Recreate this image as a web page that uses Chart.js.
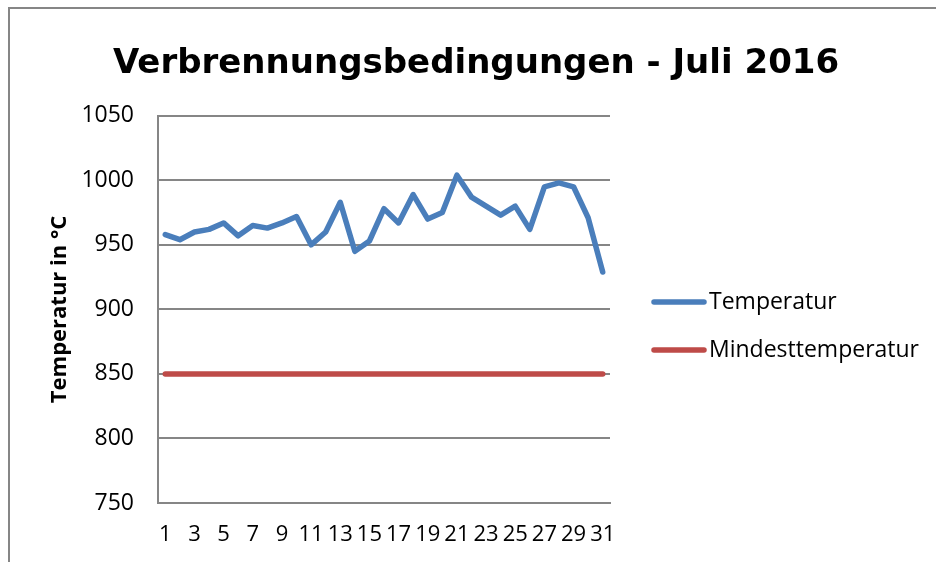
<!DOCTYPE html>
<html>
<head>
<meta charset="utf-8">
<script src="https://cdn.jsdelivr.net/npm/chart.js@4.4.1/dist/chart.umd.min.js"></script>
<style>
    html, body { margin: 0; padding: 0; background: #fff; }
    #wrap { width: 936px; height: 562px; }
</style>
</head>
<body>
<div id="wrap"><canvas id="chart"></canvas></div>
<script>
// --- Data ---
const days = ['1','2','3','4','5','6','7','8','9','10','11','12','13','14','15','16',
    '17','18','19','20','21','22','23','24','25','26','27','28','29','30','31'];
const temperatur = [958, 954, 960, 962, 967, 957, 965, 963, 967, 972, 950, 960, 983, 945, 953, 978,
    967, 989, 970, 975, 1004, 987, 980, 973, 980, 962, 995, 998, 995, 971, 929];
const mindesttemperatur = [850, 850, 850, 850, 850, 850, 850, 850, 850, 850, 850, 850, 850, 850, 850, 850,
    850, 850, 850, 850, 850, 850, 850, 850, 850, 850, 850, 850, 850, 850, 850];
const yTicks = [750, 800, 850, 900, 950, 1000, 1050];

const GRID = '#868686';
const FONT = "'Open Sans', sans-serif";

// frame round the chart (top and left edge only visible)
const framePlugin = {
    id: 'frame',
    beforeDraw(chart) {
        const ctx = chart.ctx;
        ctx.save();
        ctx.fillStyle = '#fff';
        ctx.fillRect(0, 0, chart.width, chart.height);
        ctx.strokeStyle = GRID;
        ctx.lineWidth = 2;
        ctx.beginPath();
        ctx.moveTo(9, chart.height);
        ctx.lineTo(9, 8);
        ctx.lineTo(chart.width, 8);
        ctx.stroke();
        ctx.restore();
    }
};

// legend drawn on the right, Excel style
const legendPlugin = {
    id: 'sideLegend',
    afterDraw(chart) {
        const ctx = chart.ctx;
        ctx.save();
        ctx.font = `23px ${FONT}`;
        ctx.textBaseline = 'middle';
        ctx.fillStyle = '#000';
        chart.data.datasets.forEach((ds, i) => {
            const y = 302 + i * 48;
            ctx.strokeStyle = ds.borderColor;
            ctx.lineWidth = ds.borderWidth;
            ctx.lineCap = 'round';
            ctx.beginPath();
            ctx.moveTo(654, y);
            ctx.lineTo(704, y);
            ctx.stroke();
            ctx.fillText(ds.label, 709, y);
        });
        ctx.restore();
    }
};

new Chart(document.getElementById('chart'), {
    type: 'line',
    data: {
        labels: days,
        datasets: [
            {
                label: 'Temperatur',
                data: temperatur,
                borderColor: '#4a7ebb',
                borderWidth: 5.5,
                pointRadius: 0,
                tension: 0,
                borderJoinStyle: 'round',
                borderCapStyle: 'round'
            },
            {
                label: 'Mindesttemperatur',
                data: mindesttemperatur,
                borderColor: '#be4b48',
                borderWidth: 5.5,
                pointRadius: 0,
                tension: 0,
                borderCapStyle: 'round'
            }
        ]
    },
    options: {
        responsive: true,
        maintainAspectRatio: false,
        animation: false,
        layout: { padding: { left: 16 } },
        plugins: {
            legend: { display: false },
            tooltip: { enabled: false },
            title: {
                display: true,
                text: 'Verbrennungsbedingungen - Juli 2016',
                color: '#000',
                font: { family: "'DejaVu Sans', sans-serif", size: 34, weight: 'bold', lineHeight: 1.2 },
                padding: { top: 44, bottom: 31 }
            }
        },
        scales: {
            x: {
                offset: true,
                grid: { display: false, drawTicks: false },
                border: { display: true, color: GRID, width: 2 },
                ticks: {
                    color: '#000',
                    font: { family: FONT, size: 22 },
                    padding: 19,
                    autoSkip: false,
                    maxRotation: 0,
                    callback: (v, i) => (i % 2 === 0 ? days[i] : '')
                },
                afterFit: s => { s.height = 59; }
            },
            y: {
                min: 750,
                max: 1050,
                afterBuildTicks: s => { s.ticks = yTicks.map(v => ({ value: v })); },
                grid: { color: GRID, lineWidth: 2, drawTicks: false },
                border: { display: true, color: GRID, width: 2 },
                ticks: {
                    color: '#000',
                    font: { family: FONT, size: 23 },
                    padding: 24,
                    callback: v => String(v)
                },
                title: {
                    display: true,
                    text: 'Temperatur in °C',
                    color: '#000',
                    font: { family: FONT, size: 22, weight: 'bold', lineHeight: 1.2 },
                    padding: { top: 31, bottom: 0 }
                },
                afterFit: s => { s.width = 142; }
            },
            // empty right axis: keeps room for the legend
            yRight: {
                position: 'right',
                display: true,
                grid: { display: false, drawTicks: false },
                border: { display: false },
                ticks: { display: false },
                afterFit: s => { s.width = 326; }
            }
        }
    },
    plugins: [framePlugin, legendPlugin]
});
</script>
</body>
</html>
